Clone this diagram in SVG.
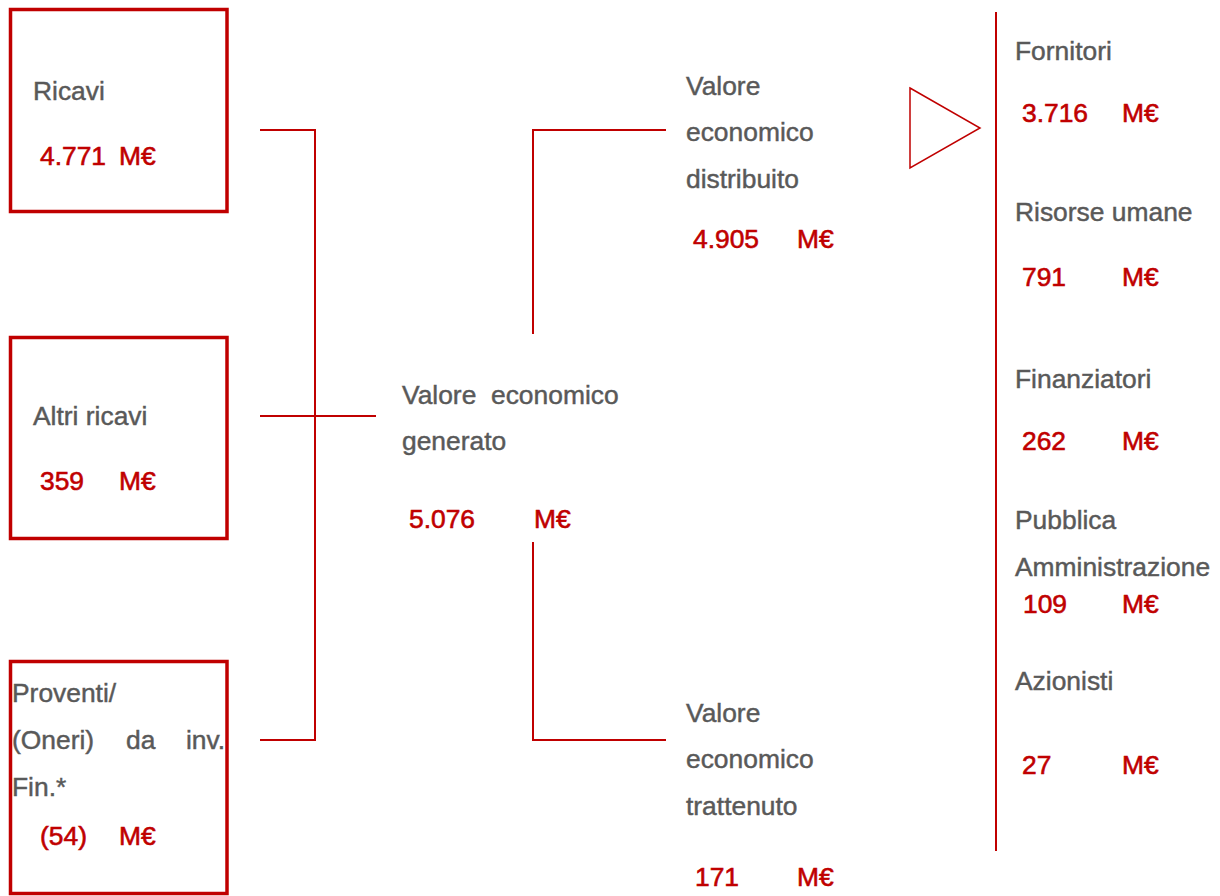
<svg xmlns="http://www.w3.org/2000/svg" width="1220" height="896" viewBox="0 0 1220 896">
<style>
.box{fill:#fff;stroke:#C00000;stroke-width:3.5}
.ln{fill:none;stroke:#C00000;stroke-width:2}
.t{font-family:"Liberation Sans",Arial,sans-serif;font-size:26.4px;fill:#595959;stroke:#595959;stroke-width:0.45}
.v{font-family:"Liberation Sans",Arial,sans-serif;font-size:26.4px;fill:#C00000;stroke:#C00000;stroke-width:0.6}
</style>
<rect width="1220" height="896" fill="#fff"/>
<g id="connectors">
<polyline class="ln" points="260,130 315,130 315,740 260,740"/>
<line class="ln" x1="260" y1="416" x2="376" y2="416"/>
<polyline class="ln" points="533,334 533,130 666,130"/>
<polyline class="ln" points="533,542 533,740 666,740"/>
<polygon points="910,88 980,128 910,168" fill="none" stroke="#C00000" stroke-width="1.5"/>
<line class="ln" x1="996" y1="12" x2="996" y2="851"/>
</g>
<g id="ricavi">
<rect class="box" x="10.5" y="9.5" width="216.5" height="202"/>
<text class="t" x="33" y="100">Ricavi</text>
<text class="v" x="40" y="165">4.771</text>
<text class="v" x="119" y="165">M€</text>
</g>
<g id="altri-ricavi">
<rect class="box" x="10.5" y="337.5" width="216.5" height="201"/>
<text class="t" x="33" y="425">Altri ricavi</text>
<text class="v" x="40" y="490">359</text>
<text class="v" x="119" y="490">M€</text>
</g>
<g id="proventi">
<rect class="box" x="10.5" y="661.5" width="216.5" height="232"/>
<text class="t" x="12" y="702">Proventi/</text>
<text class="t" x="12" y="749">(Oneri)</text>
<text class="t" x="126" y="749">da</text>
<text class="t" x="225" y="749" text-anchor="end">inv.</text>
<text class="t" x="12" y="796">Fin.*</text>
<text class="v" x="40" y="845">(54)</text>
<text class="v" x="119" y="845">M€</text>
</g>
<g id="generato">
<text class="t" x="402" y="404" xml:space="preserve">Valore  economico</text>
<text class="t" x="402" y="450">generato</text>
<text class="v" x="409" y="528">5.076</text>
<text class="v" x="534" y="528">M€</text>
</g>
<g id="distribuito">
<text class="t" x="686" y="95">Valore</text>
<text class="t" x="686" y="141">economico</text>
<text class="t" x="686" y="188">distribuito</text>
<text class="v" x="693" y="248">4.905</text>
<text class="v" x="797" y="248">M€</text>
</g>
<g id="trattenuto">
<text class="t" x="686" y="722">Valore</text>
<text class="t" x="686" y="768">economico</text>
<text class="t" x="686" y="815">trattenuto</text>
<text class="v" x="695" y="886">171</text>
<text class="v" x="797" y="886">M€</text>
</g>
<g id="fornitori">
<text class="t" x="1015" y="60">Fornitori</text>
<text class="v" x="1022" y="122">3.716</text>
<text class="v" x="1122" y="122">M€</text>
</g>
<g id="risorse-umane">
<text class="t" x="1015" y="221">Risorse umane</text>
<text class="v" x="1022" y="286">791</text>
<text class="v" x="1122" y="286">M€</text>
</g>
<g id="finanziatori">
<text class="t" x="1015" y="388">Finanziatori</text>
<text class="v" x="1022" y="450">262</text>
<text class="v" x="1122" y="450">M€</text>
</g>
<g id="pa">
<text class="t" x="1015" y="529">Pubblica</text>
<text class="t" x="1015" y="576">Amministrazione</text>
<text class="v" x="1023" y="613">109</text>
<text class="v" x="1122" y="613">M€</text>
</g>
<g id="azionisti">
<text class="t" x="1015" y="690">Azionisti</text>
<text class="v" x="1022" y="774">27</text>
<text class="v" x="1122" y="774">M€</text>
</g>
</svg>
